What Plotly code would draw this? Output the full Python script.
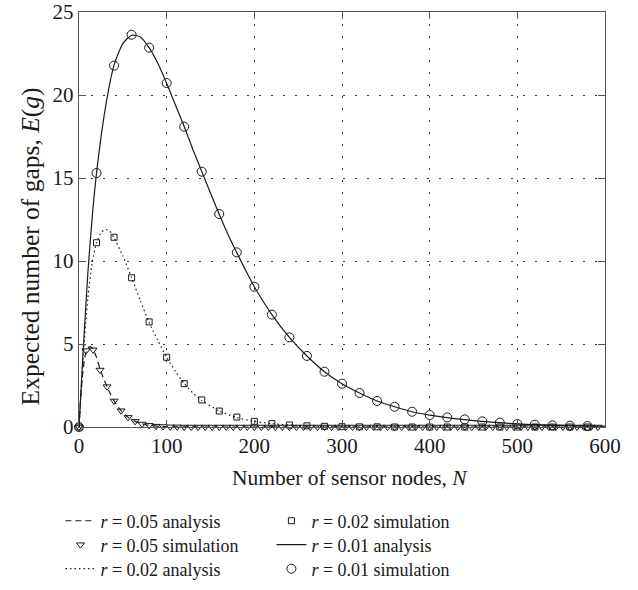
import plotly.graph_objects as go

# ---------------- data ----------------
# r = 0.05 simulation (triangles), N = 0, 8, 16, ... 592
n_sim05 = list(range(0, 600, 8))
y_sim05 = [0.0, 4.6, 4.65, 3.43, 2.43, 1.57, 0.98, 0.58, 0.34, 0.18,
           0.10, 0.05, 0.03, 0.01, 0.01, 0.0, 0.0, 0.0, 0.0, 0.0,
           0.0, 0.0, 0.0, 0.0, 0.0, 0.0, 0.0, 0.0, 0.0, 0.0,
           0.0, 0.0, 0.0, 0.0, 0.0, 0.0, 0.0, 0.0, 0.0, 0.0,
           0.0, 0.0, 0.0, 0.0, 0.0, 0.0, 0.0, 0.0, 0.0, 0.0,
           0.0, 0.0, 0.0, 0.0, 0.0, 0.0, 0.0, 0.0, 0.0, 0.0,
           0.0, 0.0, 0.0, 0.0, 0.0, 0.0, 0.0, 0.0, 0.0, 0.0,
           0.0, 0.0, 0.0, 0.0, 0.0]

# r = 0.02 simulation (squares), N = 0, 20, ... 580
n_sim02 = list(range(0, 600, 20))
y_sim02 = [0.0, 11.1, 11.43, 8.99, 6.33, 4.2, 2.61, 1.63, 0.96, 0.6,
           0.34, 0.2, 0.12, 0.07, 0.04, 0.02, 0.01, 0.01, 0.0, 0.0,
           0.0, 0.0, 0.0, 0.0, 0.0, 0.0, 0.0, 0.0, 0.0, 0.0]

# r = 0.01 simulation (circles), N = 0, 20, ... 580
n_sim01 = list(range(0, 600, 20))
y_sim01 = [0.0, 15.3, 21.77, 23.63, 22.85, 20.72, 18.09, 15.38, 12.83, 10.52,
           8.45, 6.77, 5.40, 4.28, 3.33, 2.61, 2.05, 1.57, 1.22, 0.92,
           0.72, 0.58, 0.46, 0.34, 0.26, 0.18, 0.14, 0.10, 0.08, 0.06]

# analysis curves (sampled along the drawn lines)
n_ana05 = [0, 2, 4, 6, 8, 10, 12, 14, 16, 20, 24, 28, 32, 36, 40, 48, 56,
           64, 72, 80, 90, 100, 120, 150, 200, 300, 400, 500, 600]
y_ana05 = [0.0, 1.8, 3.1, 4.0, 4.5, 4.75, 4.84, 4.8, 4.68, 4.2, 3.5, 2.93,
           2.43, 1.97, 1.57, 0.98, 0.58, 0.34, 0.19, 0.10, 0.05, 0.02,
           0.005, 0.0, 0.0, 0.0, 0.0, 0.0, 0.0]

n_ana02 = [0, 5, 10, 15, 20, 25, 30, 35, 40, 50, 60, 70, 80, 90, 100, 110,
           120, 130, 140, 160, 180, 200, 220, 240, 260, 280, 300, 350, 400,
           500, 600]
y_ana02 = [0.0, 4.4, 7.7, 9.9, 11.1, 11.7, 11.9, 11.8, 11.4, 10.3, 9.0, 7.6,
           6.3, 5.2, 4.2, 3.35, 2.62, 2.05, 1.6, 0.96, 0.57, 0.34, 0.2, 0.12,
           0.07, 0.04, 0.02, 0.005, 0.0, 0.0, 0.0]

n_ana01 = [0, 5, 10, 15, 20, 30, 40, 50, 60, 70, 80, 90, 100, 110, 120, 130,
           140, 150, 160, 170, 180, 190, 200, 220, 240, 260, 280, 300, 320,
           340, 360, 380, 400, 420, 440, 460, 480, 500, 520, 540, 560, 580,
           600]
y_ana01 = [0.0, 4.8, 9.2, 12.6, 15.3, 19.2, 21.8, 23.1, 23.6, 23.5, 22.85,
           21.9, 20.7, 19.4, 18.1, 16.7, 15.4, 14.1, 12.8, 11.6, 10.5, 9.45,
           8.45, 6.77, 5.4, 4.28, 3.33, 2.61, 2.05, 1.57, 1.22, 0.92, 0.72,
           0.56, 0.44, 0.34, 0.26, 0.19, 0.14, 0.11, 0.08, 0.06, 0.05]

x_ticks = [0, 100, 200, 300, 400, 500, 600]
y_ticks = [0, 5, 10, 15, 20, 25]

# ---------------- figure ----------------
FONT = "Liberation Serif"
INK = "#1a1a1a"

fig = go.Figure()

def line_trace(x, y, dash, name, legend):
    return go.Scatter(x=x, y=y, mode="lines", name=name, legend=legend,
                      line=dict(color=INK, width=1.2, dash=dash,
                                shape="spline", smoothing=0.6),
                      cliponaxis=True)

def marker_trace(x, y, symbol, size, name, legend):
    return go.Scatter(x=x, y=y, mode="markers", name=name, legend=legend,
                      marker=dict(symbol=symbol, size=size, color=INK,
                                  line=dict(color=INK, width=1)),
                      cliponaxis=False)

fig.add_trace(line_trace(n_ana05, y_ana05, "6px,4px",
                         "<i>r</i> = 0.05 analysis", "legend"))
fig.add_trace(marker_trace(n_sim05, y_sim05, "triangle-down-open", 7,
                           "<i>r</i> = 0.05 simulation", "legend2"))
fig.add_trace(line_trace(n_ana02, y_ana02, "1.5px,3px",
                         "<i>r</i> = 0.02 analysis", "legend3"))
fig.add_trace(marker_trace(n_sim02, y_sim02, "square-open", 6,
                           "<i>r</i> = 0.02 simulation", "legend4"))
fig.add_trace(line_trace(n_ana01, y_ana01, "solid",
                         "<i>r</i> = 0.01 analysis", "legend5"))
fig.add_trace(marker_trace(n_sim01, y_sim01, "circle-open", 9,
                           "<i>r</i> = 0.01 simulation", "legend6"))

axis_common = dict(
    showline=True, linecolor="#555", linewidth=1.4, mirror="ticks",
    ticks="inside", ticklen=7, tickcolor="#555", tickwidth=1.4,
    showgrid=True, gridcolor="#333", griddash="1.5px,10.5px", gridwidth=1.1,
    zeroline=False,
    tickfont=dict(family=FONT, size=21, color=INK),
)

fig.update_xaxes(range=[0, 600], tickvals=x_ticks, **axis_common)
fig.update_yaxes(range=[0, 25], tickvals=y_ticks, **axis_common)

legend_common = dict(font=dict(family=FONT, size=18, color=INK),
                     bgcolor="rgba(0,0,0,0)", xanchor="left",
                     yanchor="middle", itemwidth=30,
                     xref="container", yref="container")

row_y = [0.1169, 0.0763, 0.0356]
col_x = [0.0947, 0.4254]

fig.update_layout(
    width=638, height=590,
    margin=dict(l=79, r=33, t=12, b=163, autoexpand=False),
    paper_bgcolor="white", plot_bgcolor="white",
    font=dict(family=FONT, color=INK),
    showlegend=True,
    legend=dict(x=col_x[0], y=row_y[0], **legend_common),
    legend2=dict(x=col_x[0], y=row_y[1], **legend_common),
    legend3=dict(x=col_x[0], y=row_y[2], **legend_common),
    legend4=dict(x=col_x[1], y=row_y[0], **legend_common),
    legend5=dict(x=col_x[1], y=row_y[1], **legend_common),
    legend6=dict(x=col_x[1], y=row_y[2], **legend_common),
    annotations=[
        dict(text="Number of sensor nodes, <i>N</i>", xref="paper",
             yref="paper", x=0.5145, y=-0.123, xanchor="center",
             yanchor="middle", showarrow=False,
             font=dict(family=FONT, size=21.5, color=INK)),
        dict(text="Expected number of gaps, <i>E</i>(<i>g</i>)",
             xref="paper", yref="paper", x=-0.0925, y=0.436,
             xanchor="center", yanchor="middle", textangle=-90,
             showarrow=False, font=dict(family=FONT, size=25.5, color=INK)),
    ],
)

fig.write_html("out.html", post_script="document.body.style.margin='0';",
               config={"displayModeBar": False})
